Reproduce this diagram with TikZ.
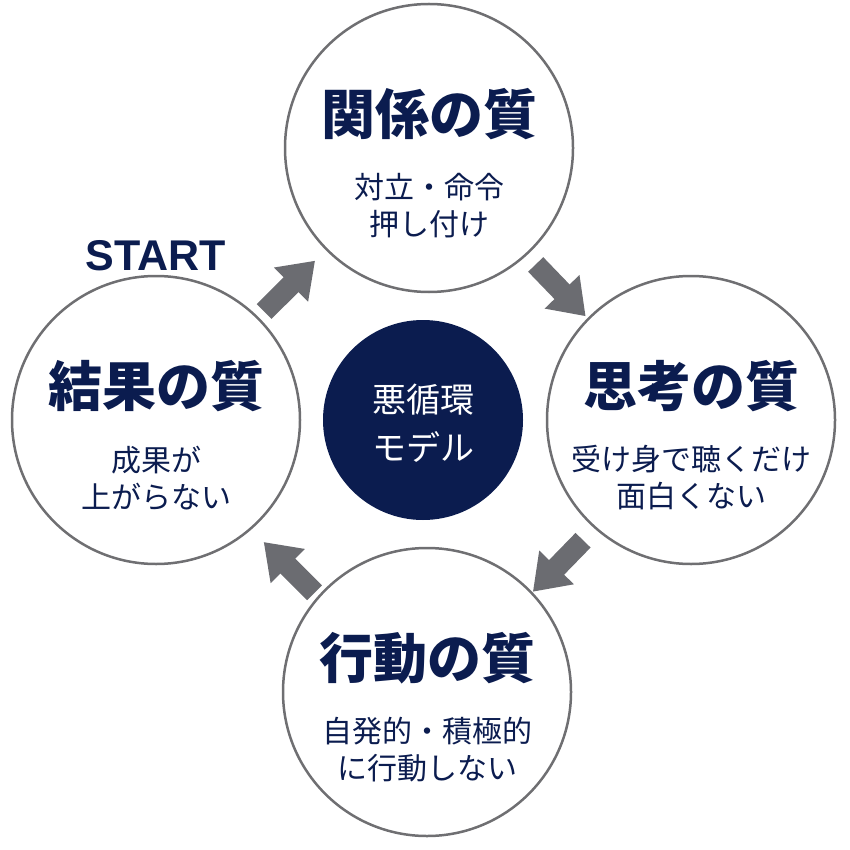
\documentclass[tikz,border=0pt]{standalone}
\usepackage{fontspec}
\setmainfont{Liberation Sans}
\newfontfamily\jp{Noto Sans CJK JP}
\usetikzlibrary{calc,arrows.meta}
\definecolor{navy}{HTML}{0B1C4F}
\definecolor{ringgray}{HTML}{6F6F72}
\definecolor{arrowgray}{HTML}{6B6C71}
\begin{document}
\begin{tikzpicture}[x=1pt, y=-1pt,
    ring/.style={circle, draw=ringgray, line width=2.5pt, minimum size=288pt, inner sep=0pt},
    qtitle/.style={font=\jp\bfseries\fontsize{54}{58}\selectfont, text=navy},
    qsub/.style={font=\jp\fontsize{30}{37}\selectfont, text=navy, align=center},
    fatarrow/.style={draw=arrowgray, line width=21pt, -{Triangle[length=34pt,width=46pt]}}]
    \useasboundingbox (0,0) rectangle (850,850);

    % 四つの質
    \node[ring] (rel) at (429,148) {};
    \node[ring] (thi) at (691,420) {};
    \node[ring] (act) at (427,692) {};
    \node[ring] (res) at (156,420) {};

    % 中央
    \node[circle, fill=navy, minimum size=200pt, inner sep=0pt] (core) at (423,420) {};
    \node[font=\jp\fontsize{34}{48}\selectfont, text=white, align=center] (coretext) at ($(core)+(0,3)$) {悪循環\\モデル};

    % 見出しと説明
    \node[qtitle] (reltitle) at ($(rel)+(0,-34)$) {関係の質};
    \node[qsub] (relsub) at ($(rel)+(0,58)$) {対立・命令\\押し付け};
    \node[qtitle] (thititle) at ($(thi)+(0,-34)$) {思考の質};
    \node[qsub] (thisub) at ($(thi)+(0,58)$) {受け身で聴くだけ\\面白くない};
    \node[qtitle] (acttitle) at ($(act)+(0,-34)$) {行動の質};
    \node[qsub] (actsub) at ($(act)+(0,58)$) {自発的・積極的\\に行動しない};
    \node[qtitle] (restitle) at ($(res)+(0,-34)$) {結果の質};
    \node[qsub] (ressub) at ($(res)+(0,58)$) {成果が\\上がらない};

    \node[font=\bfseries\fontsize{43}{46}\selectfont, text=navy] (start) at ($(res)+(0,-164)$) {START};

    % 矢印
    \coordinate (m1) at ($($(res)!0.5!(rel)$)+(-3,2)$);
    \coordinate (m2) at ($($(rel)!0.5!(thi)$)+(0,7)$);
    \coordinate (m3) at ($($(thi)!0.5!(act)$)+(0,11)$);
    \coordinate (m4) at ($($(act)!0.5!(res)$)+(-4,13)$);
    \draw[fatarrow] ($(m1)!36pt!(res)$) -- ($(m1)!36pt!(rel)$);
    \draw[fatarrow] ($(m2)!36pt!(rel)$) -- ($(m2)!36pt!(thi)$);
    \draw[fatarrow] ($(m3)!36pt!(thi)$) -- ($(m3)!36pt!(act)$);
    \draw[fatarrow] ($(m4)!36pt!(act)$) -- ($(m4)!36pt!(res)$);
\end{tikzpicture}
\end{document}
